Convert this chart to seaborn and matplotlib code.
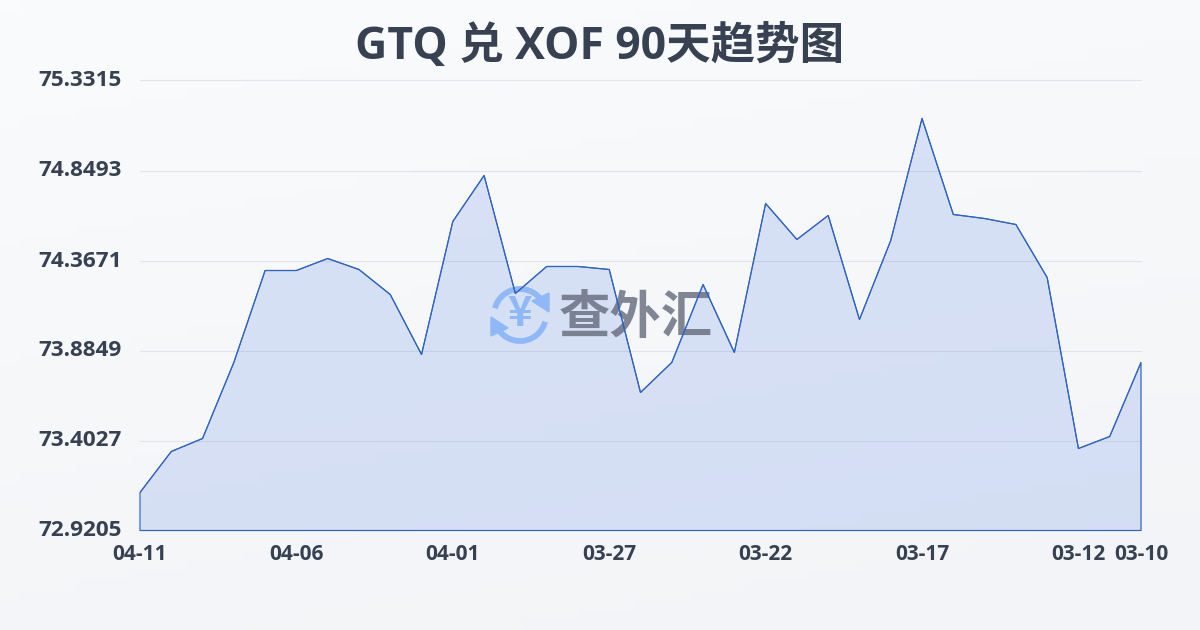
"""GTQ / XOF 90 day trend chart
"""

import numpy as np
import matplotlib.pyplot as plt
from matplotlib.patches import Arc, Polygon
from matplotlib.transforms import Affine2D, ScaledTranslation
import seaborn as sns
import pandas as pd

# newest first, the axis runs backwards in time
day_index = list(range(33))
rates = [73.1241, 73.3438, 73.4134, 73.8206, 74.3135, 74.3135, 74.3778, 74.3189,
         74.1849, 73.8635, 74.5761, 74.8225, 74.1903, 74.3350, 74.3350, 74.3189,
         73.6599, 73.8206, 74.2385, 73.8742, 74.6725, 74.4796, 74.6082, 74.0510,
         74.4743, 75.1279, 74.6136, 74.5921, 74.5600, 74.2760, 73.3598, 73.4241,
         73.8206]
tick_pos = [0, 5, 10, 15, 20, 25, 30, 32]
tick_labels = ['04-11', '04-06', '04-01', '03-27', '03-22', '03-17', '03-12', '03-10']
y_ticks = [72.9205, 73.4027, 73.8849, 74.3671, 74.8493, 75.3315]

LINE = '#2f63c4'
TEXT = '#374151'
CJK = ['Open Sans', 'Noto Sans CJK SC', 'DejaVu Sans']

sns.set_theme(style='white')
plt.rcParams['font.family'] = ['Open Sans', 'DejaVu Sans']

fig = plt.figure(figsize=(12, 6.3), dpi=100)

# page background, soft diagonal gradient
bg = fig.add_axes([0, 0, 1, 1], zorder=0)
bg.axis('off')
yy, xx = np.mgrid[0:1:64j, 0:1:64j]
shade = 0.75 * yy + 0.25 * xx
c1, c2 = np.array([250, 251, 252]) / 255, np.array([242, 244, 247]) / 255
bg.imshow(c1 + (c2 - c1) * shade[..., None], aspect='auto', extent=[0, 1, 0, 1], origin='upper')

ax = fig.add_axes([140 / 1200, 1 - 530.5 / 630, 1001 / 1200, 450 / 630], zorder=1)
ax.patch.set_alpha(0)

data = pd.DataFrame({'day': day_index, 'rate': rates})
ax.fill_between(data['day'], data['rate'], y_ticks[0], facecolor='#3568e0', alpha=0.16, lw=0, zorder=2)
ax.fill_between(data['day'], data['rate'], y_ticks[0], facecolor='none', edgecolor=LINE, lw=0.85,
                zorder=5, clip_on=False)
sns.lineplot(data=data, x='day', y='rate', color=LINE, lw=0.85, ax=ax, zorder=5)

ax.set_xlim(0, 32)
ax.set_ylim(y_ticks[0], y_ticks[-1])
ax.set_xlabel('')
ax.set_ylabel('')
ax.grid(axis='y', color='#e1e4e9', lw=0.8, clip_on=False)
ax.set_axisbelow(True)
sns.despine(ax=ax, left=True, bottom=True, top=True, right=True)

ax.set_xticks(tick_pos)
ax.set_xticklabels(tick_labels, fontsize=15, fontweight='bold', color=TEXT)
ax.set_yticks(y_ticks)
ax.set_yticklabels([f'{v:.4f}' for v in y_ticks], fontsize=16.2, fontweight='bold', color=TEXT)
ax.tick_params(axis='x', length=8, width=0.8, color='#dfe3ea', pad=2)
ax.tick_params(axis='y', length=0, pad=13)
# y labels sit a little above their gridlines
lift = ScaledTranslation(0, 2 / 100, fig.dpi_scale_trans)
for lab in ax.get_yticklabels():
    lab.set_transform(lab.get_transform() + lift)

fig.text(0.5, 1 - 47.5 / 630, 'GTQ 兑 XOF 90天趋势图', ha='center', va='center',
         fontsize=32, fontweight='bold', color=TEXT, family=CJK)

# watermark logo, placed in image pixels
pix = Affine2D().scale(1, -1).translate(0, 630)
BLUE = '#8fb8f6'
for start, end in [(195, 335), (15, 155)]:
    ax.add_patch(Arc((520, 315), 52, 52, theta1=start, theta2=end, color=BLUE, lw=4.2,
                     transform=pix, zorder=4, clip_on=False))
ax.add_patch(Polygon([(549, 293), (549, 312), (532, 301)], closed=True, color=BLUE, transform=pix, zorder=4))
ax.add_patch(Polygon([(491, 317), (491, 336), (508, 328)], closed=True, color=BLUE, transform=pix, zorder=4))
ax.text(520, 314, '¥', transform=pix, ha='center', va='center', fontsize=30, fontweight='bold',
        color=BLUE, zorder=4, family=CJK[1:])
ax.text(636, 317, '查外汇', transform=pix, ha='center', va='center', fontsize=37, fontweight='bold',
        color='#5f6777', alpha=0.78, zorder=4, family=CJK[1:])

fig.savefig('out.png', dpi=100)
